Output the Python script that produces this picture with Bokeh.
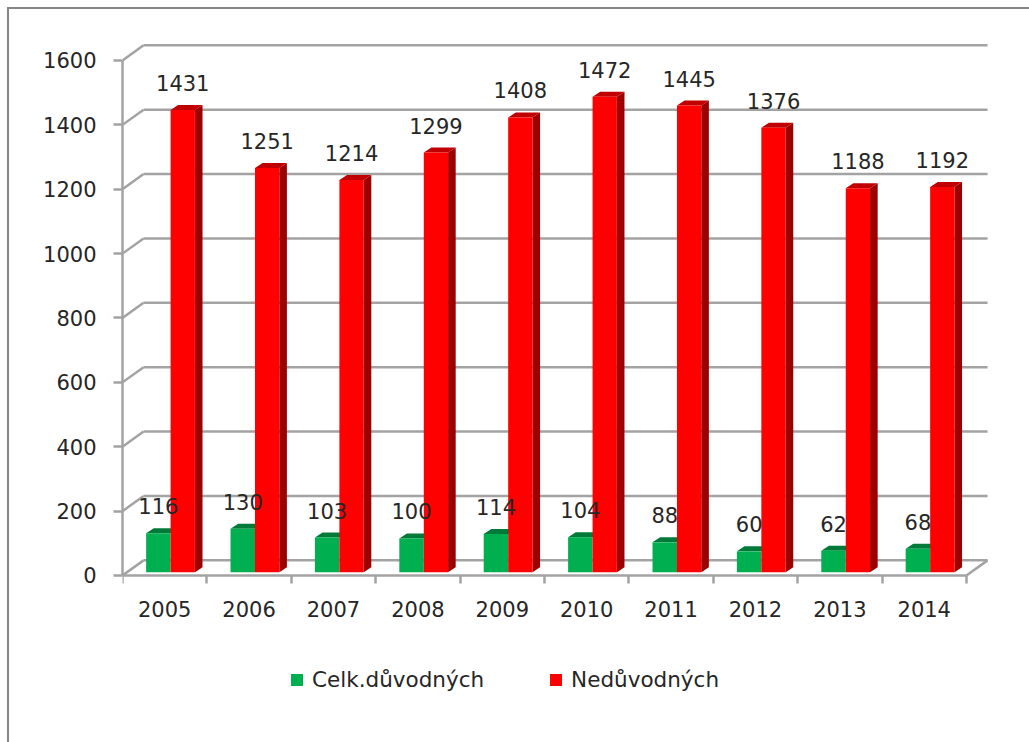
from bokeh.plotting import figure
from bokeh.models import FixedTicker, Legend, LegendItem
from bokeh.embed import file_html
from bokeh.resources import INLINE
from bokeh.core.properties import value

years = ["2005","2006","2007","2008","2009","2010","2011","2012","2013","2014"]
duvodnych = [116,130,103,100,114,104,88,60,62,68]
neduvodnych = [1431,1251,1214,1299,1408,1472,1445,1376,1188,1192]
y_ticks = [0,200,400,600,800,1000,1200,1400,1600]
series_names = ["Celk.důvodných", "Nedůvodných"]

FONT = "DejaVu Sans"
SIZE = "21px"
GRID = "#a3a3a3"
TXT = "#262626"
GREEN, GREEN_D = "#00b050", "#007a38"
RED, RED_D, RED_T = "#ff0000", "#9c0000", "#c00000"

# geometry of the pseudo-3D box, in data units
WALL_DX, WALL_DY = 0.25, 47
BAR_DX, BAR_DY = 0.09, 15.5
BASE, TOP_OFF = 10, 15
G_L, MID, R_R = 0.28, 0.57, 0.858
n = len(years)

p = figure(frame_width=868, frame_height=702, output_backend="svg", toolbar_location=None,
           x_range=(0, 10.285), y_range=(-518.8, 1662),
           min_border_left=113, min_border_right=39, min_border_top=31, min_border_bottom=0,
           outline_line_color=None, background_fill_color="white", border_fill_color="white",
           styles={"margin-left": "7px", "margin-top": "7px",
                   "border-left": "2px solid #868686", "border-top": "2px solid #868686"})
p.grid.visible = False

# walls
p.segment(x0=[WALL_DX]*len(y_ticks), x1=[n+WALL_DX]*len(y_ticks),
          y0=[t+WALL_DY for t in y_ticks], y1=[t+WALL_DY for t in y_ticks],
          line_color=GRID, line_width=2.5)
p.segment(x0=[0]*len(y_ticks), x1=[WALL_DX]*len(y_ticks),
          y0=y_ticks, y1=[t+WALL_DY for t in y_ticks], line_color=GRID, line_width=2.5)
p.segment(x0=[n], x1=[n+WALL_DX], y0=[0], y1=[WALL_DY], line_color=GRID, line_width=2.5)

def faces(vals, left, right):
    tx, ty, sx, sy = [], [], [], []
    for i, v in enumerate(vals):
        l, r, t = i+left, i+right, v+TOP_OFF
        tx.append([l, r, r+BAR_DX, l+BAR_DX])
        ty.append([t, t, t+BAR_DY, t+BAR_DY])
        sx.append([r, r+BAR_DX, r+BAR_DX, r])
        sy.append([BASE, BASE+BAR_DY, t+BAR_DY, t])
    return tx, ty, sx, sy

xs_g = [i+(G_L+MID)/2 for i in range(n)]
xs_r = [i+(MID+R_R)/2 for i in range(n)]

tx, ty, _, _ = faces(duvodnych, G_L, MID)
p.patches(tx, ty, fill_color=GREEN_D, line_color=None)
rg = p.vbar(x=xs_g, width=MID-G_L, bottom=BASE, top=[v+TOP_OFF for v in duvodnych],
            fill_color=GREEN, line_color=None)

tx, ty, sx, sy = faces(neduvodnych, MID, R_R)
p.patches(sx, sy, fill_color=RED_D, line_color=None)
p.patches(tx, ty, fill_color=RED_T, line_color=None)
rr = p.vbar(x=xs_r, width=R_R-MID, bottom=BASE, top=[v+TOP_OFF for v in neduvodnych],
            fill_color=RED, line_color=None)

# data labels
p.text(x=xs_g, y=[v+TOP_OFF for v in duvodnych], text=[str(v) for v in duvodnych],
       text_align="center", text_baseline="middle", y_offset=-27,
       text_font=value(FONT), text_font_size=SIZE, text_color=TXT)
p.text(x=xs_r, y=[v+TOP_OFF for v in neduvodnych], text=[str(v) for v in neduvodnych],
       text_align="center", text_baseline="middle", y_offset=-27,
       text_font=value(FONT), text_font_size=SIZE, text_color=TXT)

# axes
ya = p.yaxis[0]
ya.ticker = FixedTicker(ticks=y_ticks)
ya.bounds = (0, 1600)
ya.axis_line_color = GRID; ya.axis_line_width = 2.5
ya.major_tick_line_color = GRID; ya.major_tick_line_width = 2.5
ya.major_tick_out = 9; ya.major_tick_in = 0
ya.minor_tick_line_color = None
ya.major_label_standoff = 17
ya.major_label_text_font = FONT; ya.major_label_text_font_size = SIZE; ya.major_label_text_color = TXT

xa = p.xaxis[0]
xa.fixed_location = 0
xa.ticker = FixedTicker(ticks=[i+0.5 for i in range(n)], minor_ticks=list(range(n+1)))
xa.major_label_overrides = {i+0.5: years[i] for i in range(n)}
xa.bounds = (0, n)
xa.axis_line_color = GRID; xa.axis_line_width = 2.5
xa.major_tick_line_color = None
xa.major_tick_out = 0; xa.major_tick_in = 0
xa.minor_tick_line_color = GRID; xa.minor_tick_line_width = 2.5
xa.minor_tick_out = 8; xa.minor_tick_in = 0
xa.major_label_standoff = 18
xa.major_label_text_font = FONT; xa.major_label_text_font_size = SIZE; xa.major_label_text_color = TXT

legend = Legend(items=[LegendItem(label=series_names[0], renderers=[rg]),
                       LegendItem(label=series_names[1], renderers=[rr])],
                orientation="horizontal", location=(167, 50), border_line_color=None,
                background_fill_alpha=0, glyph_width=15, glyph_height=15, label_standoff=8,
                spacing=64, padding=0, margin=0,
                label_text_font=FONT, label_text_font_size="21.5px", label_text_color=TXT)
p.add_layout(legend, "center")

open("out.html", "w").write(file_html(p, INLINE))
